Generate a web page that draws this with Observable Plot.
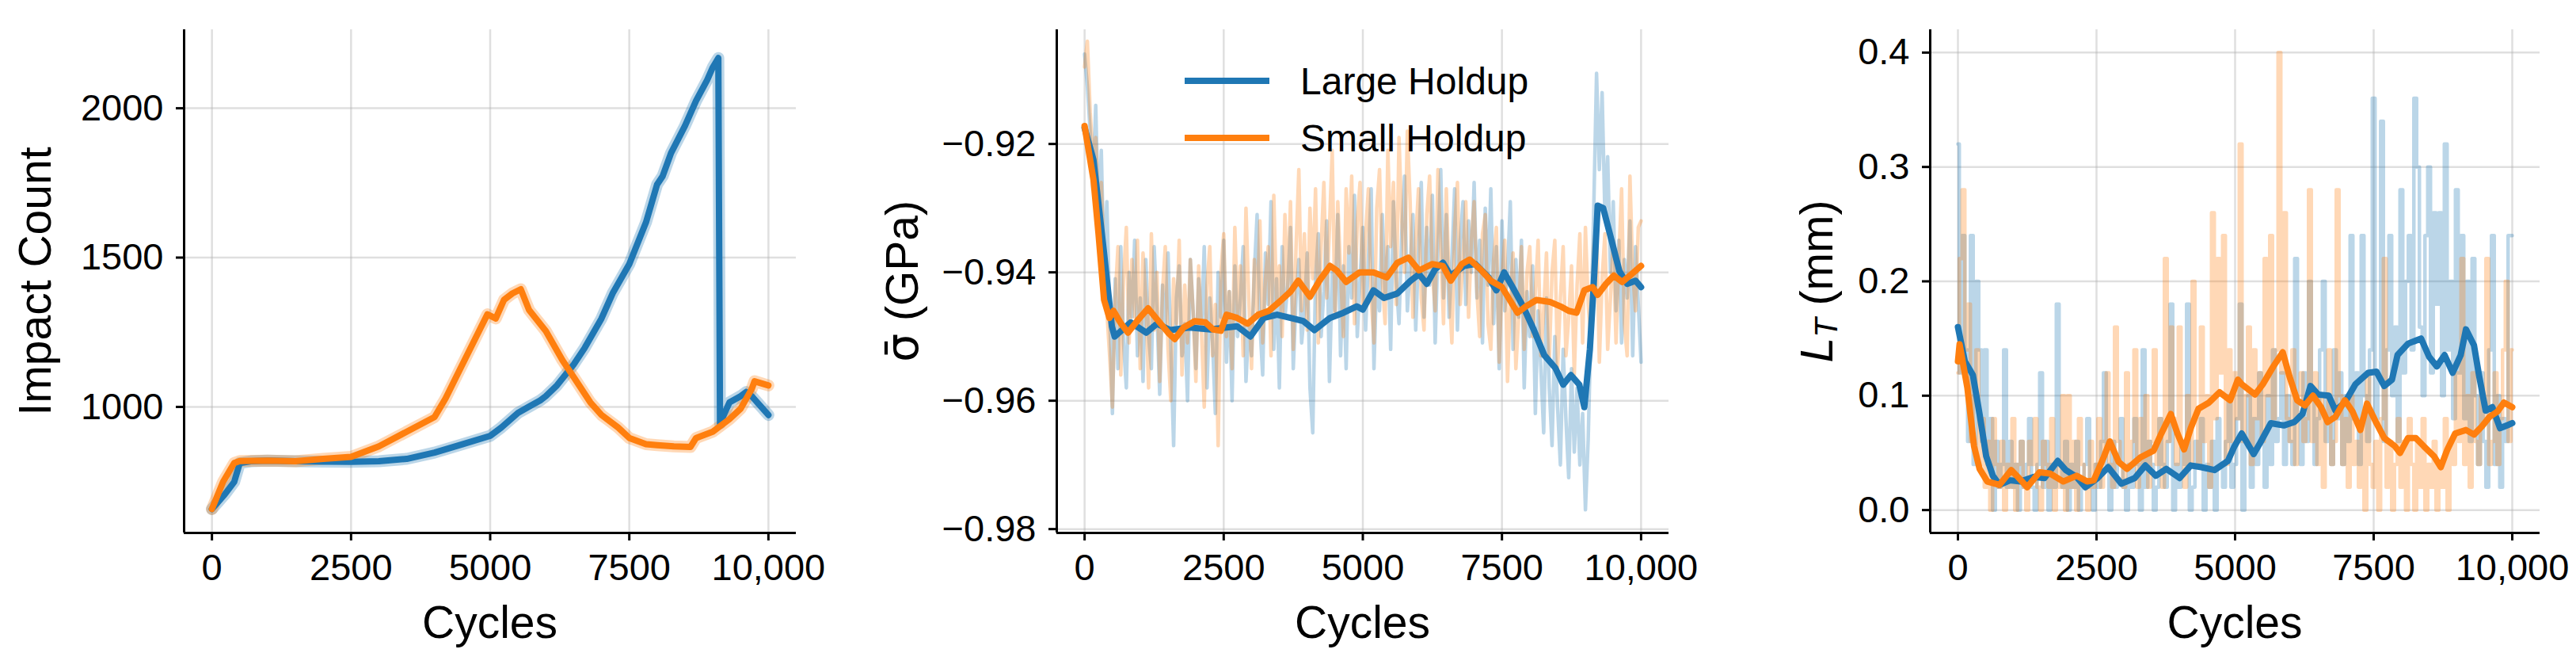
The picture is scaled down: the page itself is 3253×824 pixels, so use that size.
<!DOCTYPE html>
<html>
<head>
<meta charset="utf-8">
<script src="https://cdn.jsdelivr.net/npm/d3@7"></script>
<script src="https://cdn.jsdelivr.net/npm/@observablehq/plot@0.6"></script>
<style>
  body { margin: 0; background: #fff; }
  #row { display: flex; width: 3253px; height: 824px; }
  #row svg { display: block; }
</style>
</head>
<body>
<div id="row"></div>
<script>
// ticks
const cycleTicks = [0, 2500, 5000, 7500, 10000]
const impactTicks = [1000, 1500, 2000]
const stressTicks = [-0.98, -0.96, -0.94, -0.92]
const lengthTicks = [0, 0.1, 0.2, 0.3, 0.4]
const seriesNames = ["Large Holdup", "Small Holdup"]

// panel 1 : impact count (smoothed)
const impactLargeCycles = [0,230,400,500,700,1000,1500,2000,2500,3000,3500,4000,4500,5000,5200,5500,5700,5900,6000,6200,6500,6700,7000,7200,7500,7800,8000,8100,8250,8500,8700,8900,9000,9100,9130,9300,9500,9600,9700,9800,10000]
const impactLargeCount = [658,707,749,812,818,820,818,817,816,818,826,847,875,903,931,980,1001,1022,1036,1072,1142,1198,1296,1380,1478,1618,1745,1773,1850,1941,2025,2095,2137,2168,945,1015,1036,1050,1036,1015,973]
const impactSmallCycles = [0,200,400,500,1000,1500,2000,2500,3000,3500,4000,4200,4500,4800,4950,5100,5250,5400,5550,5700,6000,6300,6500,6800,7000,7300,7500,7800,8000,8300,8600,8700,9000,9300,9500,9700,9750,10000]
const impactSmallCount = [658,749,812,819,820,818,826,833,868,917,966,1029,1142,1254,1310,1296,1359,1380,1394,1324,1254,1156,1100,1015,973,931,896,875,872,868,866,896,917,959,994,1060,1086,1072]

// panel 2 : mean stress (smoothed)
const stressLargeCycles = [0,160,350,490,540,830,1110,1300,1540,1880,2260,2550,2740,2980,3220,3460,3700,3930,4130,4410,4650,4890,5000,5190,5380,5620,5860,6010,6150,6300,6440,6580,6820,7020,7260,7400,7540,7690,7880,8070,8260,8460,8600,8740,8890,8980,9080,9150,9220,9320,9460,9610,9750,9900,10000]
const stressLargeSigma = [-0.9175,-0.9225,-0.937,-0.9484,-0.950,-0.9478,-0.9494,-0.948,-0.949,-0.9486,-0.9489,-0.9486,-0.9484,-0.950,-0.9471,-0.9466,-0.9471,-0.9476,-0.949,-0.9471,-0.9463,-0.9453,-0.9458,-0.9428,-0.944,-0.9433,-0.9413,-0.9403,-0.9418,-0.9395,-0.9385,-0.9405,-0.939,-0.9387,-0.9408,-0.9428,-0.940,-0.9423,-0.9453,-0.9489,-0.9529,-0.9549,-0.9575,-0.956,-0.9575,-0.961,-0.952,-0.9418,-0.9296,-0.930,-0.9347,-0.9398,-0.9418,-0.9413,-0.9423]
const stressSmallCycles = [0,160,250,350,445,520,640,780,970,1140,1300,1500,1620,1780,1980,2170,2310,2450,2550,2740,2930,3120,3310,3500,3700,3840,4050,4220,4410,4530,4700,4940,5190,5430,5620,5820,6010,6250,6440,6580,6780,6920,7110,7300,7500,7640,7780,7930,8120,8360,8550,8700,8840,8980,9130,9220,9370,9510,9660,9800,10000]
const stressSmallSigma = [-0.9172,-0.9256,-0.934,-0.9443,-0.9471,-0.946,-0.9478,-0.9494,-0.9473,-0.9456,-0.9473,-0.9494,-0.9504,-0.9486,-0.9476,-0.9478,-0.9489,-0.9491,-0.9466,-0.9471,-0.948,-0.9466,-0.946,-0.9446,-0.943,-0.9413,-0.9438,-0.9413,-0.939,-0.9397,-0.9415,-0.940,-0.940,-0.9408,-0.9385,-0.9377,-0.9397,-0.9387,-0.939,-0.9413,-0.9387,-0.938,-0.9395,-0.9413,-0.9423,-0.9443,-0.9463,-0.9453,-0.9443,-0.9446,-0.9453,-0.946,-0.9463,-0.9428,-0.9423,-0.9435,-0.9418,-0.9405,-0.9415,-0.9405,-0.939]

// panel 3 : L_T (smoothed)
const lengthLargeCycles = [0,125,270,390,510,630,750,940,1130,1370,1560,1800,1945,2140,2300,2520,2710,2950,3190,3380,3570,3760,4000,4200,4390,4630,4870,4980,5120,5335,5455,5645,5880,6070,6215,6360,6500,6690,6810,6980,7170,7400,7550,7690,7830,7930,8120,8355,8500,8640,8780,8925,9070,9165,9310,9400,9520,9640,9780,9925,10000]
const lengthLargeLT = [0.160,0.130,0.118,0.084,0.047,0.030,0.022,0.026,0.025,0.029,0.028,0.043,0.035,0.029,0.020,0.028,0.0375,0.023,0.028,0.039,0.030,0.036,0.028,0.039,0.0375,0.035,0.043,0.055,0.067,0.049,0.059,0.076,0.074,0.077,0.084,0.1085,0.101,0.100,0.087,0.094,0.110,0.120,0.121,0.1085,0.114,0.1355,0.1455,0.150,0.134,0.1256,0.1355,0.120,0.1355,0.158,0.144,0.118,0.087,0.090,0.0716,0.0744,0.076]
const lengthSmallCycles = [0,30,170,290,390,530,750,960,1080,1250,1470,1660,1900,2140,2330,2450,2620,2740,2900,3050,3290,3530,3670,3840,3960,4080,4200,4340,4530,4720,4910,5050,5120,5360,5500,5690,5860,5980,6120,6260,6405,6550,6670,6810,6980,7120,7260,7380,7550,7690,7880,7975,8120,8260,8400,8590,8710,8830,8970,9165,9310,9450,9590,9730,9850,10000]
const lengthSmallLT = [0.130,0.145,0.107,0.056,0.036,0.025,0.022,0.035,0.029,0.020,0.033,0.032,0.025,0.030,0.025,0.026,0.045,0.060,0.042,0.036,0.046,0.052,0.067,0.084,0.067,0.053,0.0716,0.0886,0.094,0.103,0.096,0.114,0.110,0.101,0.110,0.1256,0.138,0.117,0.096,0.0915,0.100,0.090,0.077,0.0815,0.096,0.086,0.070,0.093,0.076,0.063,0.056,0.050,0.063,0.063,0.056,0.047,0.0375,0.053,0.067,0.070,0.066,0.073,0.0815,0.086,0.094,0.090]

// raw (unsmoothed) samples, every 50 cycles
const rawCycles = d3.range(0, 10001, 50)
const stressLargeRaw = [
  -0.906,-0.911,-0.918,-0.927,-0.914,-0.932,-0.921,-0.940,-0.929,-0.946,-0.962,-0.941,-0.955,-0.936,-0.951,-0.958,-0.940,-0.947,-0.935,-0.953,
  -0.944,-0.957,-0.938,-0.950,-0.955,-0.936,-0.946,-0.959,-0.942,-0.949,-0.937,-0.952,-0.967,-0.944,-0.939,-0.953,-0.948,-0.960,-0.938,-0.946,
  -0.955,-0.941,-0.949,-0.936,-0.958,-0.944,-0.951,-0.962,-0.940,-0.947,-0.935,-0.954,-0.943,-0.960,-0.939,-0.950,-0.944,-0.936,-0.957,-0.948,
  -0.953,-0.940,-0.931,-0.948,-0.956,-0.937,-0.945,-0.929,-0.952,-0.941,-0.958,-0.936,-0.947,-0.942,-0.933,-0.955,-0.944,-0.938,-0.951,-0.946,
  -0.937,-0.958,-0.965,-0.941,-0.934,-0.950,-0.943,-0.932,-0.957,-0.940,-0.946,-0.931,-0.953,-0.939,-0.955,-0.936,-0.944,-0.928,-0.950,-0.941,
  -0.933,-0.949,-0.938,-0.927,-0.955,-0.940,-0.946,-0.931,-0.944,-0.936,-0.952,-0.929,-0.941,-0.948,-0.934,-0.925,-0.946,-0.939,-0.931,-0.949,
  -0.937,-0.926,-0.947,-0.933,-0.942,-0.928,-0.951,-0.936,-0.924,-0.944,-0.931,-0.947,-0.938,-0.927,-0.949,-0.935,-0.929,-0.945,-0.932,-0.940,
  -0.926,-0.944,-0.935,-0.951,-0.930,-0.942,-0.927,-0.948,-0.936,-0.955,-0.932,-0.946,-0.940,-0.929,-0.952,-0.938,-0.947,-0.935,-0.958,-0.943,
  -0.950,-0.939,-0.962,-0.946,-0.955,-0.965,-0.944,-0.958,-0.967,-0.950,-0.961,-0.970,-0.952,-0.963,-0.972,-0.955,-0.968,-0.958,-0.970,-0.962,
  -0.977,-0.966,-0.948,-0.930,-0.909,-0.924,-0.912,-0.931,-0.922,-0.940,-0.929,-0.946,-0.935,-0.951,-0.938,-0.944,-0.932,-0.953,-0.936,-0.945,
  -0.954]
const stressSmallRaw = [
  -0.908,-0.904,-0.915,-0.922,-0.919,-0.930,-0.926,-0.938,-0.946,-0.953,-0.961,-0.944,-0.936,-0.956,-0.941,-0.933,-0.951,-0.938,-0.947,-0.935,
  -0.955,-0.937,-0.944,-0.958,-0.934,-0.949,-0.940,-0.957,-0.943,-0.936,-0.952,-0.960,-0.941,-0.948,-0.935,-0.956,-0.942,-0.951,-0.938,-0.946,
  -0.957,-0.939,-0.949,-0.961,-0.942,-0.936,-0.953,-0.945,-0.967,-0.940,-0.934,-0.950,-0.943,-0.955,-0.933,-0.947,-0.939,-0.953,-0.930,-0.944,
  -0.955,-0.938,-0.946,-0.932,-0.951,-0.941,-0.936,-0.953,-0.928,-0.945,-0.939,-0.950,-0.931,-0.943,-0.929,-0.952,-0.936,-0.924,-0.946,-0.934,
  -0.949,-0.930,-0.941,-0.927,-0.951,-0.936,-0.926,-0.944,-0.933,-0.921,-0.947,-0.929,-0.940,-0.950,-0.927,-0.937,-0.925,-0.948,-0.932,-0.926,
  -0.946,-0.934,-0.927,-0.944,-0.951,-0.930,-0.924,-0.941,-0.948,-0.921,-0.936,-0.926,-0.945,-0.919,-0.932,-0.940,-0.918,-0.929,-0.947,-0.935,
  -0.927,-0.944,-0.949,-0.931,-0.925,-0.940,-0.946,-0.924,-0.936,-0.948,-0.927,-0.942,-0.951,-0.933,-0.926,-0.945,-0.938,-0.929,-0.947,-0.935,
  -0.929,-0.943,-0.950,-0.934,-0.931,-0.948,-0.952,-0.938,-0.933,-0.954,-0.941,-0.935,-0.957,-0.944,-0.937,-0.955,-0.947,-0.936,-0.952,-0.940,
  -0.936,-0.950,-0.943,-0.935,-0.953,-0.946,-0.937,-0.954,-0.940,-0.935,-0.955,-0.944,-0.936,-0.953,-0.947,-0.939,-0.956,-0.942,-0.934,-0.951,
  -0.933,-0.945,-0.951,-0.936,-0.932,-0.954,-0.941,-0.934,-0.952,-0.944,-0.935,-0.951,-0.938,-0.927,-0.948,-0.953,-0.925,-0.940,-0.946,-0.933,
  -0.932]
const lengthLargeRaw = [
  0.32,0.12,0.24,0.14,0.06,0.24,0.04,0.20,0.14,0.06,0.14,0.04,0.08,0.00,0.06,0.02,0.04,0.14,0.02,0.06,
  0.02,0.04,0.00,0.06,0.02,0.04,0.08,0.02,0.00,0.04,0.12,0.02,0.06,0.00,0.04,0.02,0.18,0.04,0.02,0.06,
  0.00,0.04,0.02,0.06,0.00,0.02,0.04,0.08,0.02,0.00,0.04,0.02,0.06,0.12,0.04,0.00,0.06,0.02,0.04,0.08,
  0.02,0.00,0.04,0.02,0.08,0.04,0.00,0.14,0.02,0.06,0.04,0.00,0.02,0.08,0.04,0.02,0.06,0.18,0.00,0.04,
  0.02,0.06,0.04,0.18,0.00,0.02,0.06,0.04,0.08,0.00,0.04,0.02,0.06,0.00,0.08,0.04,0.02,0.06,0.10,0.02,
  0.04,0.08,0.18,0.00,0.06,0.10,0.02,0.08,0.04,0.12,0.06,0.02,0.10,0.04,0.14,0.06,0.08,0.12,0.04,0.10,
  0.06,0.04,0.22,0.08,0.04,0.12,0.06,0.20,0.10,0.04,0.08,0.14,0.20,0.06,0.10,0.04,0.14,0.08,0.12,0.04,
  0.10,0.06,0.24,0.08,0.12,0.04,0.24,0.10,0.06,0.14,0.36,0.08,0.12,0.34,0.06,0.14,0.24,0.10,0.16,0.06,
  0.28,0.12,0.20,0.24,0.14,0.36,0.30,0.16,0.10,0.24,0.30,0.12,0.26,0.18,0.26,0.10,0.32,0.14,0.20,0.08,
  0.28,0.12,0.24,0.08,0.20,0.06,0.22,0.10,0.04,0.12,0.06,0.02,0.14,0.24,0.04,0.10,0.02,0.08,0.06,0.24,
  0.24]
const lengthSmallRaw = [
  0.12,0.22,0.28,0.14,0.18,0.06,0.10,0.14,0.04,0.08,0.02,0.06,0.00,0.08,0.04,0.02,0.06,0.00,0.04,0.02,
  0.08,0.00,0.04,0.06,0.02,0.00,0.06,0.04,0.08,0.02,0.00,0.06,0.04,0.02,0.08,0.00,0.04,0.02,0.10,0.00,
  0.10,0.02,0.06,0.00,0.08,0.04,0.02,0.00,0.06,0.02,0.04,0.08,0.02,0.06,0.12,0.04,0.02,0.16,0.06,0.04,
  0.02,0.12,0.04,0.06,0.14,0.02,0.08,0.04,0.10,0.02,0.06,0.14,0.04,0.08,0.02,0.22,0.06,0.16,0.08,0.04,
  0.16,0.06,0.02,0.10,0.04,0.20,0.08,0.04,0.16,0.06,0.10,0.02,0.26,0.08,0.22,0.12,0.24,0.04,0.14,0.06,
  0.12,0.08,0.32,0.06,0.10,0.16,0.04,0.14,0.08,0.12,0.06,0.22,0.10,0.24,0.08,0.14,0.40,0.12,0.26,0.08,
  0.06,0.14,0.04,0.10,0.12,0.06,0.08,0.28,0.06,0.12,0.04,0.10,0.02,0.08,0.14,0.04,0.06,0.28,0.10,0.04,
  0.08,0.02,0.10,0.04,0.06,0.02,0.08,0.00,0.12,0.04,0.02,0.06,0.00,0.08,0.22,0.02,0.06,0.00,0.04,0.08,
  0.02,0.06,0.00,0.08,0.04,0.00,0.06,0.02,0.08,0.00,0.04,0.02,0.06,0.00,0.04,0.02,0.08,0.00,0.06,0.04,
  0.12,0.06,0.22,0.04,0.10,0.02,0.12,0.06,0.04,0.10,0.08,0.22,0.04,0.06,0.12,0.04,0.08,0.14,0.20,0.06,
  0.14]

const blue = "#1f77b4"
const orange = "#ff7f0e"
const font = "'Liberation Sans', Arial, Helvetica, sans-serif"

const pts = (xs, ys) => xs.map((x, i) => ({x: x, y: ys[i]}))
const fmtCycle = d => d >= 10000 ? d3.format(",")(d) : String(d)

function smooth(xs, ys, color) {
  return Plot.line(pts(xs, ys), {x: "x", y: "y", stroke: color, strokeWidth: 8, strokeLinejoin: "round"})
}
function raw(xs, ys, color, opts) {
  return Plot.line(pts(xs, ys), {x: "x", y: "y", stroke: color, strokeOpacity: 0.3, strokeWidth: 4.5, ...opts})
}

function panel(o) {
  const svg = Plot.plot({
    width: o.width,
    height: 824,
    marginLeft: o.marginLeft,
    marginRight: o.marginRight,
    marginTop: 37,
    marginBottom: 152,
    style: {fontFamily: font, fontSize: "47px", color: "#000", background: "#fff", overflow: "visible"},
    x: {domain: [-500, 10500]},
    y: {domain: o.yDomain},
    marks: [
      Plot.gridX(cycleTicks, {stroke: "#b0b0b0", strokeOpacity: 0.4, strokeWidth: 2.5}),
      Plot.gridY(o.yTicks, {stroke: "#b0b0b0", strokeOpacity: 0.4, strokeWidth: 2.5}),
      ...o.marks,
      Plot.ruleX([-500], {strokeWidth: 3}),
      Plot.ruleY([o.yDomain[0]], {strokeWidth: 3}),
      Plot.axisX(cycleTicks, {tickSize: 10, tickPadding: 16, strokeWidth: 3, tickFormat: fmtCycle, label: null}),
      Plot.axisY(o.yTicks, {tickSize: 10, tickPadding: 16, strokeWidth: 3, tickFormat: o.yFormat, label: null})
    ]
  })
  const s = d3.select(svg)
  // x label
  s.append("text")
    .attr("x", (o.marginLeft + o.width - o.marginRight) / 2)
    .attr("y", 785)
    .attr("text-anchor", "middle")
    .attr("dominant-baseline", "central")
    .style("font-size", "57px")
    .text("Cycles")
  // y label
  const yl = s.append("text")
    .attr("transform", `translate(${o.yLabelX},355) rotate(-90)`)
    .attr("text-anchor", "middle")
    .attr("dominant-baseline", "central")
    .style("font-size", "57px")
  o.yLabel(yl)
  return svg
}

const row = d3.select("#row")

row.append(() => panel({
  width: 1084, marginLeft: 232, marginRight: 79,
  yDomain: [578, 2263], yTicks: impactTicks, yFormat: d3.format("d"), yLabelX: 44,
  yLabel: t => t.text("Impact Count"),
  marks: [
    raw(impactLargeCycles, impactLargeCount, blue, {strokeWidth: 15}),
    raw(impactSmallCycles, impactSmallCount, orange, {strokeWidth: 15}),
    smooth(impactLargeCycles, impactLargeCount, blue),
    smooth(impactSmallCycles, impactSmallCount, orange)
  ]
}))

const p2 = panel({
  width: 1084, marginLeft: 250, marginRight: 61,
  yDomain: [-0.9806, -0.9022], yTicks: stressTicks, yFormat: d3.format(".2f"), yLabelX: 55,
  yLabel: t => {
    t.append("tspan").style("font-family", "'DejaVu Sans'").text("σ\u0304")
    t.append("tspan").text(" (GPa)")
  },
  marks: [
    raw(rawCycles, stressLargeRaw, blue),
    raw(rawCycles, stressSmallRaw, orange),
    smooth(stressLargeCycles, stressLargeSigma, blue),
    smooth(stressSmallCycles, stressSmallSigma, orange)
  ]
})
// legend
const lg = d3.select(p2).append("g").attr("text-anchor", "start")
;[blue, orange].forEach((c, i) => {
  const y = 102 + i * 72
  lg.append("line").attr("x1", 412).attr("x2", 519).attr("y1", y).attr("y2", y)
    .attr("stroke", c).attr("stroke-width", 8)
  lg.append("text").attr("x", 558).attr("y", y).attr("dominant-baseline", "central")
    .style("font-size", "48px").text(seriesNames[i])
})
row.append(() => p2)

row.append(() => panel({
  width: 1085, marginLeft: 269, marginRight: 46,
  yDomain: [-0.02, 0.42], yTicks: lengthTicks, yFormat: d3.format(".1f"), yLabelX: 126,
  yLabel: t => {
    t.append("tspan").style("font-style", "italic").text("L")
    t.append("tspan").style("font-style", "italic").style("font-size", "40px").attr("dy", 12).text("T")
    t.append("tspan").attr("dy", -12).text(" (mm)")
  },
  marks: [
    raw(rawCycles, lengthLargeRaw, blue, {curve: "step"}),
    raw(rawCycles, lengthSmallRaw, orange, {curve: "step"}),
    smooth(lengthLargeCycles, lengthLargeLT, blue),
    smooth(lengthSmallCycles, lengthSmallLT, orange)
  ]
}))
</script>
</body>
</html>
